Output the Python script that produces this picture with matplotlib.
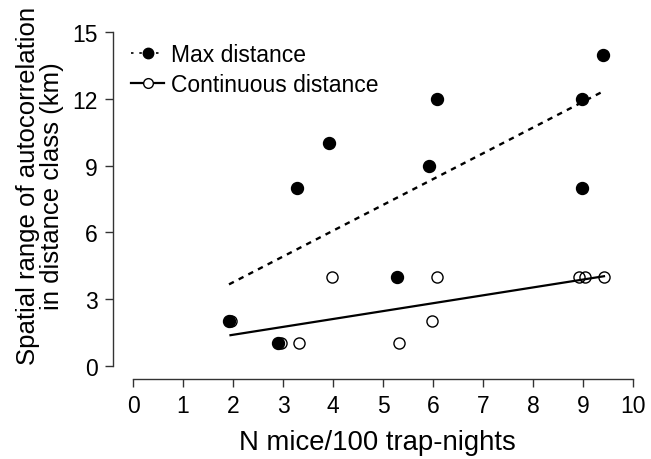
import numpy as np
import matplotlib
matplotlib.use("Agg")
import matplotlib.pyplot as plt

plt.rcParams['font.family'] = ['Liberation Sans', 'DejaVu Sans']

# Data
max_x = [1.92, 2.90, 3.27, 3.92, 5.28, 5.91, 6.07, 8.97, 8.98, 9.39]
max_y = [2, 1, 8, 10, 4, 9, 12, 12, 8, 14]
cont_x = [1.95, 2.95, 3.31, 3.97, 5.31, 5.97, 6.08, 8.91, 9.03, 9.42]
cont_y = [2, 1, 1, 4, 1, 2, 4, 4, 4, 4]

x_ticks = list(range(0, 11))
y_ticks = [0, 3, 6, 9, 12, 15]

fig = plt.figure(figsize=(6.51, 4.60), dpi=100)
ax = fig.add_axes([113 / 651, 80 / 460, 540 / 651, 360 / 460])

# regression lines over the range of each series
def fit_line(xs, ys):
    b, a = np.polyfit(xs, ys, 1)
    xx = np.array([min(xs), max(xs)])
    return xx, a + b * xx

lx, ly = fit_line(max_x, max_y)
ax.plot(lx, ly, color='black', lw=1.7, dashes=(2.3, 2.3))
lx, ly = fit_line(cont_x, cont_y)
ax.plot(lx, ly, color='black', lw=1.6)

ax.plot(max_x, max_y, 'o', color='black', ms=8.6, mec='black', ls='none')
ax.plot(cont_x, cont_y, 'o', mfc='none', mec='black', mew=1.0, ms=8, ls='none')

# legend handles
h1, = ax.plot([], [], color='black', lw=1.2, dashes=(1.5, 3.5), marker='o', ms=7.5, mfc='black')
h2, = ax.plot([], [], color='black', lw=1.6, marker='o', ms=7, mfc='white', mew=1.0)
ax.legend([h1, h2], ['Max distance', 'Continuous distance'], loc='upper left',
          bbox_to_anchor=(131 / 651, 1 - 44 / 460), bbox_transform=fig.transFigure,
          frameon=False, fontsize=16.5, handlelength=1.45, handletextpad=0.3,
          labelspacing=0.3, borderpad=0, borderaxespad=0)

ax.set_xlim(-0.4, 10.4)
ax.set_ylim(-0.6, 15.6)
ax.set_xticks(x_ticks)
ax.set_yticks(y_ticks)
ax.tick_params(labelsize=16.5, length=6, width=1, color='#333333', pad=5)
for s in ['top', 'right']:
    ax.spines[s].set_visible(False)
ax.spines['left'].set_bounds(0, 15)
ax.spines['bottom'].set_bounds(0, 10)
for s in ['left', 'bottom']:
    ax.spines[s].set_color('#333333')
    ax.spines[s].set_linewidth(1)
ax.patch.set_visible(False)

fig.text(377 / 651, 1 - 443 / 460, 'N mice/100 trap-nights', ha='center', va='center', fontsize=19.8)
fig.text(40 / 651, 1 - 186 / 460, 'Spatial range of autocorrelation\nin distance class (km)',
         ha='center', va='center', rotation=90, fontsize=18.5, linespacing=1.05, multialignment='center')

fig.savefig('out.png', dpi=100)
